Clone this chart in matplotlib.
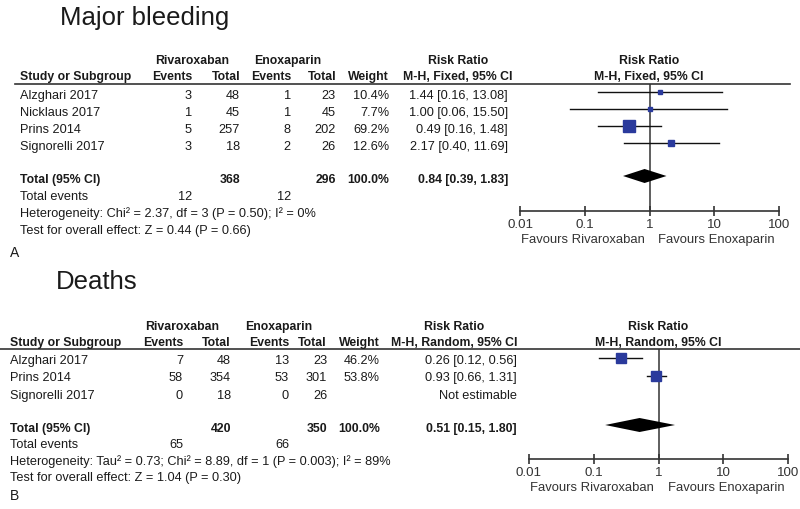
import matplotlib
matplotlib.use("Agg")
import matplotlib.pyplot as plt

plt.rcParams['font.family'] = ['Liberation Sans', 'DejaVu Sans']

# ---- data: major bleeding ----
mb_studies = ["Alzghari 2017", "Nicklaus 2017", "Prins 2014", "Signorelli 2017"]
mb_riva_events = [3, 1, 5, 3]
mb_riva_total = [48, 45, 257, 18]
mb_enox_events = [1, 1, 8, 2]
mb_enox_total = [23, 45, 202, 26]
mb_weight = [10.4, 7.7, 69.2, 12.6]
mb_rr = [1.44, 1.00, 0.49, 2.17]
mb_lo = [0.16, 0.06, 0.16, 0.40]
mb_hi = [13.08, 15.50, 1.48, 11.69]
mb_total = dict(riva_total=368, enox_total=296, riva_events=12, enox_events=12,
                rr=0.84, lo=0.39, hi=1.83)
mb_het = "Heterogeneity: Chi\u00b2 = 2.37, df = 3 (P = 0.50); I\u00b2 = 0%"
mb_test = "Test for overall effect: Z = 0.44 (P = 0.66)"

# ---- data: deaths ----
d_studies = ["Alzghari 2017", "Prins 2014", "Signorelli 2017"]
d_riva_events = [7, 58, 0]
d_riva_total = [48, 354, 18]
d_enox_events = [13, 53, 0]
d_enox_total = [23, 301, 26]
d_weight = [46.2, 53.8, None]
d_rr = [0.26, 0.93, None]
d_lo = [0.12, 0.66, None]
d_hi = [0.56, 1.31, None]
d_total = dict(riva_total=420, enox_total=350, riva_events=65, enox_events=66,
               rr=0.51, lo=0.15, hi=1.80)
d_het = "Heterogeneity: Tau\u00b2 = 0.73; Chi\u00b2 = 8.89, df = 1 (P = 0.003); I\u00b2 = 89%"
d_test = "Test for overall effect: Z = 1.04 (P = 0.30)"

ticks = [0.01, 0.1, 1, 10, 100]
tick_labels = ["0.01", "0.1", "1", "10", "100"]

W, H = 800, 510
TXT = '#1a1a1a'
GREY = '#333333'
BLUE = '#2a3a9c'
FS = 9.2
HFS = 8.8

fig = plt.figure(figsize=(W / 100, H / 100), dpi=100)
bg = fig.add_axes([0, 0, 1, 1])
bg.set_xlim(0, W)
bg.set_ylim(H, 0)
bg.axis('off')


def t(x, y, s, fontsize=FS, color=TXT, **kw):
    bg.text(x, y, s, color=color, va='center', fontsize=fontsize, **kw)


def panel(title, title_xy, method, studies, re_, rt_, ee_, et_, wt, rr, lo, hi, tot,
          het, test, letter, L):
    t(title_xy[0], title_xy[1], title, fontsize=18.5)

    # table header
    h1, h2 = L['h1'], L['h2']
    t(L['riva'], h1, "Rivaroxaban", ha='center', fontsize=HFS, weight='bold')
    t(L['enox'], h1, "Enoxaparin", ha='center', fontsize=HFS, weight='bold')
    t(L['rrc'], h1, "Risk Ratio", ha='center', fontsize=HFS, weight='bold')
    t(L['fc'], h1, "Risk Ratio", ha='center', fontsize=HFS, weight='bold')
    t(L['name'], h2, "Study or Subgroup", fontsize=HFS, weight='bold')
    for key, s in [('ev1', "Events"), ('to1', "Total"), ('ev2', "Events"),
                   ('to2', "Total"), ('wt', "Weight")]:
        t(L[key], h2, s, ha='right', fontsize=HFS, weight='bold')
    t(L['rrc'], h2, method, ha='center', fontsize=HFS, weight='bold')
    t(L['fc'], h2, method, ha='center', fontsize=HFS, weight='bold')
    bg.plot([L['line_x0'], L['line_x1']], [L['line'], L['line']], color=GREY, lw=1.2)

    # study rows
    for i, s in enumerate(studies):
        y = L['row0'] + i * L['rowh']
        t(L['name'], y, s)
        t(L['ev1'], y, str(re_[i]), ha='right')
        t(L['to1'], y, str(rt_[i]), ha='right')
        t(L['ev2'], y, str(ee_[i]), ha='right')
        t(L['to2'], y, str(et_[i]), ha='right')
        if wt[i] is not None:
            t(L['wt'], y, f"{wt[i]:.1f}%", ha='right')
            t(L['rrr'], y, f"{rr[i]:.2f} [{lo[i]:.2f}, {hi[i]:.2f}]", ha='right')
        else:
            t(L['rrr'], y, "Not estimable", ha='right')

    # totals
    yt = L['tot']
    t(L['name'], yt, "Total (95% CI)", weight='bold', fontsize=HFS)
    t(L['to1'], yt, str(tot['riva_total']), ha='right', weight='bold', fontsize=HFS)
    t(L['to2'], yt, str(tot['enox_total']), ha='right', weight='bold', fontsize=HFS)
    t(L['wt'], yt, "100.0%", ha='right', weight='bold', fontsize=HFS)
    t(L['rrr'], yt, f"{tot['rr']:.2f} [{tot['lo']:.2f}, {tot['hi']:.2f}]",
      ha='right', weight='bold', fontsize=HFS)
    y = yt + L['fh']
    t(L['name'], y, "Total events")
    t(L['ev1'], y, str(tot['riva_events']), ha='right')
    t(L['ev2'], y, str(tot['enox_events']), ha='right')
    t(L['name'], y + L['fh'], het)
    t(L['name'], y + 2 * L['fh'], test)
    t(L['letter_x'], L['letter_y'], letter, fontsize=10)

    # forest plot
    x0, x1, ytop, ybot = L['fx0'], L['fx1'], L['line'], L['axis']
    ax = fig.add_axes([x0 / W, 1 - ybot / H, (x1 - x0) / W, (ybot - ytop) / H])
    ax.patch.set_alpha(0)
    ax.set_xscale('log')
    ax.set_xlim(0.01, 100)
    ax.set_ylim(ybot, ytop)
    for sp in ['top', 'left', 'right']:
        ax.spines[sp].set_visible(False)
    ax.spines['bottom'].set_color(GREY)
    ax.spines['bottom'].set_linewidth(1.2)
    ax.set_xticks(ticks)
    ax.set_xticklabels(tick_labels)
    ax.minorticks_off()
    ax.tick_params(axis='x', direction='inout', length=7, width=1.2, color=GREY,
                   labelsize=9.6, labelcolor=GREY, pad=1.5)
    ax.set_yticks([])
    ax.axvline(1, color=GREY, lw=1.1, zorder=1)
    for i in range(len(studies)):
        if rr[i] is None:
            continue
        y = L['row0'] + i * L['rowh'] - L['moff']
        ax.plot([lo[i], hi[i]], [y, y], color='#111111', lw=1.0, zorder=2)
        side = L['sq'] * wt[i] ** 0.5 * 0.72
        ax.plot(rr[i], y, marker='s', ms=side, color=BLUE, mec=BLUE, zorder=3)
    yd = L['tot'] - L['doff']
    ax.fill([tot['lo'], tot['rr'], tot['hi'], tot['rr']],
            [yd, yd - 7, yd, yd + 7], color='black', zorder=3, lw=0)

    xm = x0 + (x1 - x0) / 2
    t(xm - 5, L['fav'], "Favours Rivaroxaban", ha='right', color=GREY, fontsize=9.4)
    t(xm + 9, L['fav'], "Favours Enoxaparin", ha='left', color=GREY, fontsize=9.4)


top_layout = dict(h1=61, h2=77, line=85, line_x0=15, line_x1=790, name=20,
                  riva=192, enox=288, ev1=192, to1=240, ev2=291, to2=336, wt=389,
                  rrc=458, rrr=508, fc=649, row0=96, rowh=17, moff=3, tot=180,
                  doff=3, fh=17, letter_x=10, letter_y=253,
                  fx0=520, fx1=779, axis=212, fav=240, sq=1.55)
bot_layout = dict(h1=327, h2=343, line=350, line_x0=0, line_x1=800, name=10,
                  riva=182, enox=279, ev1=183, to1=231, ev2=289, to2=327, wt=380,
                  rrc=454, rrr=517, fc=658, row0=361, rowh=17.5, moff=2, tot=429,
                  doff=3, fh=16.5, letter_x=10, letter_y=496,
                  fx0=529, fx1=788, axis=460, fav=488, sq=1.4)

panel("Major bleeding", (60, 18), "M-H, Fixed, 95% CI", mb_studies, mb_riva_events,
      mb_riva_total, mb_enox_events, mb_enox_total, mb_weight, mb_rr, mb_lo, mb_hi,
      mb_total, mb_het, mb_test, "A", top_layout)
panel("Deaths", (56, 282), "M-H, Random, 95% CI", d_studies, d_riva_events,
      d_riva_total, d_enox_events, d_enox_total, d_weight, d_rr, d_lo, d_hi,
      d_total, d_het, d_test, "B", bot_layout)

fig.savefig("out.png", dpi=100)
